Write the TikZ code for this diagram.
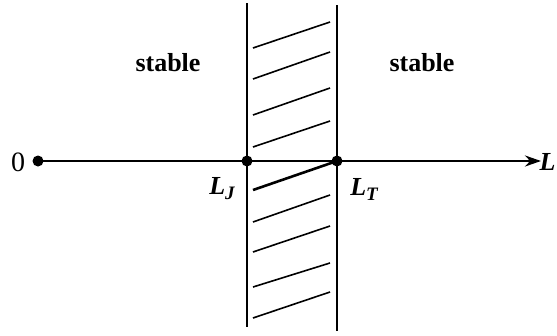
\documentclass[tikz,border=0pt]{standalone}
\usepackage{fontspec}
\setmainfont{Liberation Serif}
\usetikzlibrary{arrows.meta}
\begin{document}
\begin{tikzpicture}[x=1pt,y=-1pt,
  axis/.style={line width=2.8pt},
  wall/.style={line width=2.6pt},
  hatch/.style={line width=1.6pt},
  pt/.style={circle,fill=black,inner sep=0pt,minimum size=11pt},
  lbl/.style={font=\fontsize{26}{30}\selectfont\bfseries},
  var/.style={font=\fontsize{26}{30}\selectfont\bfseries\itshape}]
\useasboundingbox (0,0) rectangle (557,335);
% points
\node[pt] (o) at (38,161) {};
\node[pt] (lj) at (247,161) {};
\node[pt] (lt) at (337,161) {};
\coordinate (end) at (541,161);
% walls
\coordinate (j1) at (247,3);
\coordinate (j2) at (247,327);
\coordinate (t1) at (337,5);
\coordinate (t2) at (337,331);
\draw[wall] (j1) -- (j2);
\draw[wall] (t1) -- (t2);
% axis
\draw[axis,-{Stealth[length=16pt,width=11pt]}] (o.center) -- (end);
% hatching
\foreach \a/\b in {48/22,79/52,115/88,147/121,222/195,252/226,287/263,318/292}{
  \draw[hatch] (253,\a) -- (330,\b);
}
\draw[line width=2.6pt] (253,190) -- (lt.center);
% labels
\node[font=\fontsize{28}{30}\selectfont] (zero) at (18,162) {0};
\node[var,anchor=west] (ll) at (536,162) {L};
\node[var] (ljl) at (222,189) {L\raisebox{-5pt}{\fontsize{19}{20}\selectfont J}};
\node[var] (ltl) at (364,189) {L\raisebox{-5pt}{\fontsize{19}{20}\selectfont T}};
\node[lbl] (s1) at (168,63) {stable};
\node[lbl] (s2) at (422,63) {stable};
\end{tikzpicture}
\end{document}
